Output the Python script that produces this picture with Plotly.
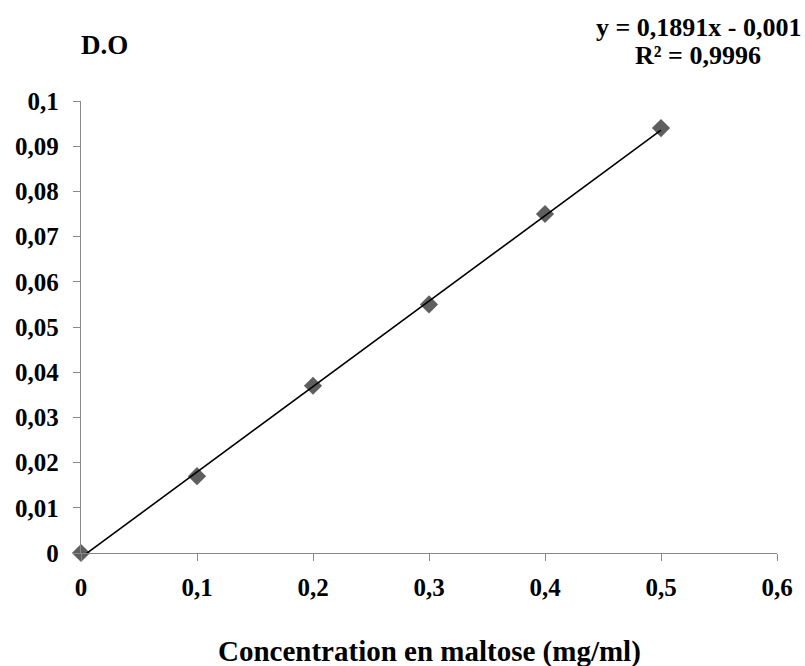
import plotly.graph_objects as go

conc = [0, 0.1, 0.2, 0.3, 0.4, 0.5]
do_vals = [0, 0.017, 0.037, 0.055, 0.075, 0.094]
slope = 0.1891
intercept = -0.001
trend_x = [0, 0.5]
x_ticks = [0, 0.1, 0.2, 0.3, 0.4, 0.5, 0.6]
x_labels = ["0", "0,1", "0,2", "0,3", "0,4", "0,5", "0,6"]
y_ticks = [0, 0.01, 0.02, 0.03, 0.04, 0.05, 0.06, 0.07, 0.08, 0.09, 0.1]
y_labels = ["0", "0,01", "0,02", "0,03", "0,04", "0,05", "0,06", "0,07", "0,08", "0,09", "0,1"]

FONT = "Liberation Serif"

fig = go.Figure()
fig.add_trace(go.Scatter(
    x=conc, y=do_vals, mode="markers",
    marker=dict(symbol="diamond", size=14, color="#5f5f5f", line=dict(width=0)),
    cliponaxis=False, showlegend=False))
fig.add_trace(go.Scatter(
    x=trend_x, y=[slope * v + intercept for v in trend_x], mode="lines",
    line=dict(color="black", width=1.6), cliponaxis=False, showlegend=False))

axis_common = dict(
    showgrid=False, zeroline=False, showline=True, linecolor="#888888", linewidth=1.3,
    ticks="outside", ticklen=7, tickcolor="#888888", tickwidth=1.3,
    tickfont=dict(family=FONT, size=25, color="black", weight="bold"),
)
fig.update_xaxes(range=[0, 0.6], tickvals=x_ticks, ticktext=x_labels,
                 ticklabelstandoff=5, **axis_common)
fig.update_yaxes(range=[0, 0.1], tickvals=y_ticks, ticktext=y_labels,
                 ticklabelstandoff=9, **axis_common)

fig.add_annotation(text="<b>D.O</b>", xref="paper", yref="paper", x=0.0, y=1.0,
                   xshift=-2, yshift=56, xanchor="left", yanchor="middle", showarrow=False,
                   font=dict(family=FONT, size=27, color="black"))
fig.add_annotation(text="<b>y = 0,1891x - 0,001</b>", xref="paper", yref="paper",
                   x=(698 - 81) / 696, y=1.0, yshift=74, xanchor="center", yanchor="middle",
                   showarrow=False, font=dict(family=FONT, size=26, color="black"))
fig.add_annotation(text="<b>R² = 0,9996</b>", xref="paper", yref="paper",
                   x=(698 - 81) / 696, y=1.0, yshift=46, xanchor="center", yanchor="middle",
                   showarrow=False, font=dict(family=FONT, size=26, color="black"))
fig.add_annotation(text="<b>Concentration en maltose (mg/ml)</b>", xref="paper", yref="paper",
                   x=0.5, y=0, yshift=-98, xanchor="center", yanchor="middle", showarrow=False,
                   font=dict(family=FONT, size=29, color="black"))

fig.update_layout(width=805, height=666, margin=dict(l=81, r=28, t=101, b=113),
                  plot_bgcolor="white", paper_bgcolor="white")
fig.write_html("out.html")
